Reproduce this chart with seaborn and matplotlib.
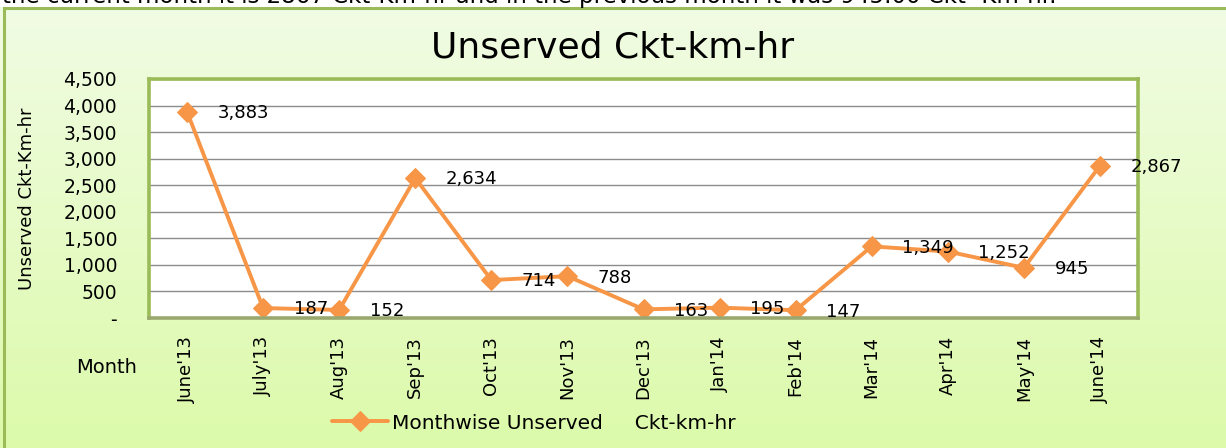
import numpy as np
import pandas as pd
import matplotlib
matplotlib.use("Agg")
import matplotlib.pyplot as plt
from matplotlib.patches import Rectangle
from matplotlib.ticker import FuncFormatter, MultipleLocator
import seaborn as sns

# data
months = ["June'13", "July'13", "Aug'13", "Sep'13", "Oct'13", "Nov'13", "Dec'13",
          "Jan'14", "Feb'14", "Mar'14", "Apr'14", "May'14", "June'14"]
unserved = [3883, 187, 152, 2634, 714, 788, 163, 195, 147, 1349, 1252, 945, 2867]

df = pd.DataFrame({"pos": np.arange(len(months)), "month": months, "value": unserved})

sns.set_theme(style="white")
plt.rcParams["font.family"] = ["DejaVu Sans"]
plt.rcParams["text.color"] = "black"
plt.rcParams["axes.labelcolor"] = "black"
plt.rcParams["xtick.color"] = "black"
plt.rcParams["ytick.color"] = "black"

orange = "#F79646"
green = "#9BBB59"

fig = plt.figure(figsize=(12.26, 4.48), dpi=100)
fig.patch.set_facecolor("white")

# chart area background (gradient) + border
bg = fig.add_axes([0, 0, 1, 1], zorder=0)
grad = np.linspace(0, 1, 256).reshape(-1, 1)
c_top = np.array([241, 252, 228]) / 255
c_bot = np.array([220, 250, 170]) / 255
img = c_top[None, None, :] * (1 - grad[:, :, None]) + c_bot[None, None, :] * grad[:, :, None]
bg.imshow(img, aspect="auto", extent=[0, 1, 0, 1 - 8 / 448], origin="upper")
bg.add_patch(Rectangle((4 / 1226, -0.01), 1.1, 1 - 8 / 448 + 0.01, fill=False,
                       edgecolor=green, linewidth=2.2))
bg.set_xlim(0, 1)
bg.set_ylim(0, 1)
bg.axis("off")

# cut-off sentence from the page above the chart
fig.text(0.002, 1 - 3 / 448,
         "the current month it is 2867 Ckt-Km-hr and in the previous month it was 945.00 Ckt- Km-hr.",
         fontsize=16.5, color="black", va="baseline", ha="left", zorder=0.5)

ax = fig.add_axes([149 / 1226, 1 - 318 / 448, (1138 - 149) / 1226, (318 - 79) / 448], zorder=2)
ax.set_facecolor("white")

sns.lineplot(data=df, x="pos", y="value", ax=ax, color=orange, linewidth=2.8,
             marker="D", markersize=10, markeredgecolor=orange,
             label="Monthwise Unserved     Ckt-km-hr", legend=False)

for x, y in zip(df["pos"], df["value"]):
    ax.annotate(f"{y:,}", (x, y), xytext=(22, -1), textcoords="offset points",
                ha="left", va="center", fontsize=13, color="black", zorder=5)

ax.set_xlim(-0.5, len(months) - 0.5)
ax.set_ylim(0, 4500)
ax.yaxis.set_major_locator(MultipleLocator(500))
ax.yaxis.set_major_formatter(FuncFormatter(lambda v, p: "-" if v == 0 else f"{int(v):,}"))
ax.grid(axis="y", color="#8c8c8c", linewidth=1)
ax.set_axisbelow(True)

ax.set_xticks(df["pos"])
ax.set_xticklabels(months, rotation=90, fontsize=13)
ax.set_xticks(np.arange(-0.5, len(months)), minor=True)
ax.tick_params(axis="x", which="major", length=0, pad=13)
ax.tick_params(axis="x", which="minor", length=6, width=1, color="#8c8c8c", direction="out")
ax.tick_params(axis="y", labelsize=13.5, length=0, pad=23)

for s in ax.spines.values():
    s.set_visible(True)
    s.set_color(green)
    s.set_linewidth(2.6)
ax.spines["bottom"].set_color("#9aa86f")

ax.set_xlabel("")
ax.set_ylabel("Unserved Ckt-Km-hr", fontsize=13)
ax.yaxis.set_label_coords(-0.114, 0.5)

fig.text(0.5, 1 - 47 / 448, "Unserved Ckt-km-hr", ha="center", va="center", fontsize=26, zorder=3)
fig.text(107 / 1226, 1 - 367 / 448, "Month", ha="center", va="center", fontsize=14, zorder=3)

handles, labels = ax.get_legend_handles_labels()
leg = fig.legend(handles, labels, loc="center", bbox_to_anchor=(534 / 1226, 1 - 423 / 448),
                 frameon=False, fontsize=14.5, handlelength=2.8, handletextpad=0.2)

fig.savefig("out.png", dpi=100)
